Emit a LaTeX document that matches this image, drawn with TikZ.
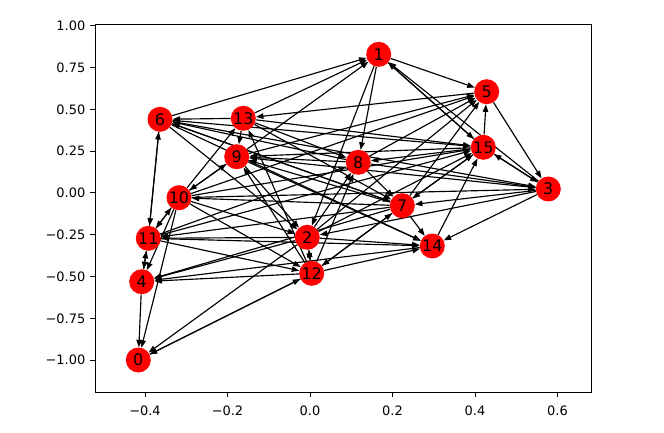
\documentclass[tikz,border=0pt]{standalone}
\usepackage{fontspec}
\setmainfont{DejaVu Sans}
\usetikzlibrary{arrows.meta}
\pgfdeclarelayer{edges}
\pgfsetlayers{edges,main}
\begin{document}
\begin{tikzpicture}[x=1bp,y=-1bp,
  vtx/.style={circle,fill=red,minimum size=25bp,inner sep=0pt,font=\fontsize{16}{17}\selectfont},
  edge/.style={-{Triangle[length=7.5bp,width=5.5bp]},line width=1.15bp,black},
  frame/.style={line width=0.9bp},
  ticklbl/.style={font=\fontsize{13}{14}\selectfont,inner sep=0pt}]
\useasboundingbox (0,0) rectangle (664,432);
% axes frame
\draw[frame] (95.3,24) rectangle (591.7,392);
% x ticks
\foreach \px/\lab in {145/{−0.4},227.5/{−0.2},310/{0.0},392.5/{0.2},475/{0.4},557.5/{0.6}}{
  \draw[frame] (\px,392) -- (\px,396.9);
  \node[ticklbl,anchor=north] (xl\px) at (\px,405.5) {\lab};
}
% y ticks
\foreach \py/\lab in {25.7/{1.00},67.5/{0.75},109.3/{0.50},151.1/{0.25},192.9/{0.00},234.7/{−0.25},276.5/{−0.50},318.3/{−0.75},360.1/{−1.00}}{
  \draw[frame] (95.3,\py) -- (90.4,\py);
  \node[ticklbl,anchor=east] (yl\py) at (85.5,\py) {\lab};
}
% nodes
\node[vtx] (n0) at (138.3,360) {0};
\node[vtx] (n1) at (378.7,54.3) {1};
\node[vtx] (n2) at (307.3,237.3) {2};
\node[vtx] (n3) at (548.3,189) {3};
\node[vtx] (n4) at (141.7,281.7) {4};
\node[vtx] (n5) at (486.7,91.7) {5};
\node[vtx] (n6) at (160,119.3) {6};
\node[vtx] (n7) at (402.3,205.7) {7};
\node[vtx] (n8) at (358.3,162.3) {8};
\node[vtx] (n9) at (236.7,156.7) {9};
\node[vtx] (n10) at (179,197.7) {10};
\node[vtx] (n11) at (148.3,238.3) {11};
\node[vtx] (n12) at (311.7,273.3) {12};
\node[vtx] (n13) at (243.3,118.3) {13};
\node[vtx] (n14) at (432.3,246) {14};
\node[vtx] (n15) at (483.3,147.3) {15};
\begin{pgfonlayer}{edges}
\foreach \a/\b in {1/5,1/15,15/1,3/1,1/8,1/2,6/1,13/1,9/1,
  15/5,5/3,5/13,3/15,15/3,3/7,3/14,3/2,8/3,10/3,3/9,
  15/8,8/7,2/8,12/8,8/9,11/8,8/5,
  7/14,14/15,2/14,12/14,14/4,9/14,6/14,11/14,
  13/6,6/11,11/6,11/4,4/11,4/0,10/0,2/0,0/12,12/0,
  13/9,10/13,11/12,2/4,12/4,7/4,
  7/15,15/7,12/7,7/12,7/5,2/5,9/5,10/5,
  6/15,13/15,10/15,2/15,11/15,
  15/9,7/9,12/9,9/2,
  6/3,6/2,13/8,13/7,
  10/11,11/10,9/10,10/9,10/4,
  10/2,10/12,7/10,
  2/11,7/11,
  2/12,12/2,
  6/7,12/13,8/6,7/6}{
  \draw[edge] (n\a) -- (n\b);
}
\end{pgfonlayer}
\end{tikzpicture}
\end{document}
